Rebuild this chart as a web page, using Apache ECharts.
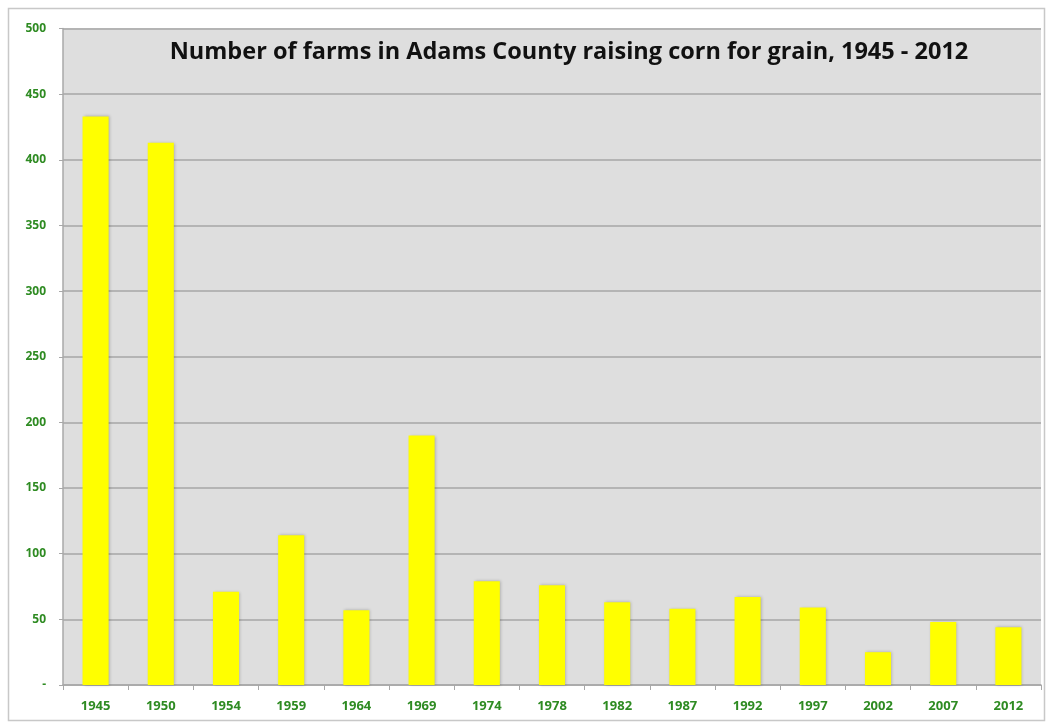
<!DOCTYPE html>
<html><head><meta charset="utf-8">
<script src="https://cdn.jsdelivr.net/npm/echarts@6/dist/echarts.min.js"></script>
<style>html,body{margin:0;padding:0;background:#fff}#c{width:1048px;height:724px}</style>
</head><body><div id="c"></div>
<script>
const years = ['1945','1950','1954','1959','1964','1969','1974','1978','1982','1987','1992','1997','2002','2007','2012'];
const farms = [433, 413, 71, 114, 57, 190, 79, 76, 63, 58, 67, 59, 25, 48, 44];
const titleText = 'Number of farms in Adams County raising corn for grain, 1945 - 2012';
const green = '#2e8b22';
const chart = echarts.init(document.getElementById('c'));
chart.setOption({
  animation: false,
  backgroundColor: '#fff',
  title: {
    text: titleText, left: 564, top: 35, textAlign: 'center',
    textStyle: {fontFamily: 'Open Sans', fontWeight: 'bold', fontSize: 23.5, color: '#111'}
  },
  graphic: [{
    type: 'rect', shape: {x: 8.5, y: 8.5, width: 1036, height: 712},
    style: {fill: 'none', stroke: '#c8c8c8', lineWidth: 1.5}, z: -1
  }],
  grid: {left: 63, right: 7, top: 28.5, bottom: 39, show: true, backgroundColor: '#dedede', borderWidth: 0},
  xAxis: {
    type: 'category', data: years,
    axisLine: {lineStyle: {color: '#a8a8a8', width: 1.5}},
    axisTick: {show: true, length: 5, lineStyle: {color: '#a8a8a8'}},
    axisLabel: {color: green, fontWeight: 'bold', fontSize: 13, fontFamily: 'Open Sans', margin: 15}
  },
  yAxis: {
    type: 'value', min: 0, max: 500, interval: 50,
    axisLine: {show: true, lineStyle: {color: '#a8a8a8', width: 1.5}},
    axisTick: {show: true, length: 4, lineStyle: {color: '#a8a8a8'}},
    splitLine: {lineStyle: {color: '#b4b4b4', width: 2}},
    axisLabel: {color: green, fontWeight: 'bold', fontSize: 12, fontFamily: 'Open Sans', margin: 17,
      formatter: v => v === 0 ? '-' : String(v)}
  },
  series: [{
    type: 'bar', data: farms, barWidth: '40%',
    itemStyle: {color: '#ffff00', shadowColor: 'rgba(0,0,0,0.25)', shadowBlur: 3, shadowOffsetX: 1, shadowOffsetY: 0}
  }]
});
</script></body></html>
